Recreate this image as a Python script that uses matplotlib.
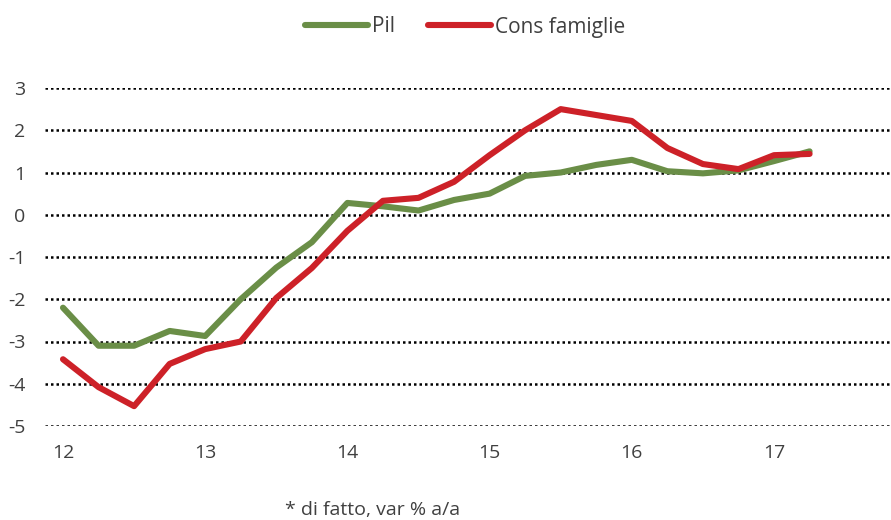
import numpy as np
import matplotlib.pyplot as plt

plt.rcParams['font.family'] = ['Open Sans', 'DejaVu Sans']
plt.rcParams['axes.unicode_minus'] = False

# Quarterly data, 2012Q1 - 2017Q2
quarters = np.arange(22)
pil = [-2.2, -3.1, -3.1, -2.75, -2.87, -2.0, -1.25, -0.65, 0.28, 0.2, 0.1, 0.35,
       0.5, 0.92, 1.0, 1.18, 1.3, 1.03, 0.98, 1.05, 1.27, 1.5]
cons_famiglie = [-3.42, -4.08, -4.53, -3.53, -3.18, -3.0, -1.97, -1.26, -0.38, 0.33, 0.4, 0.78,
                 1.41, 2.0, 2.5, 2.36, 2.22, 1.58, 1.2, 1.08, 1.41, 1.44]
year_ticks = [0, 4, 8, 12, 16, 20]
year_labels = ['12', '13', '14', '15', '16', '17']

text_col = '#404040'

fig = plt.figure(figsize=(8.91, 5.2), dpi=100)
ax = fig.add_axes([45 / 891, (520 - 426) / 520, (891 - 45) / 891, (426 - 88) / 520])

ax.plot(quarters, pil, color='#6A8E47', lw=4.4, label='Pil', solid_capstyle='round', clip_on=False)
ax.plot(quarters, cons_famiglie, color='#CD2128', lw=4.4, label='Cons famiglie', solid_capstyle='round', clip_on=False)

ax.set_xlim(-0.506, 23.29)
ax.set_ylim(-5, 3)
ax.set_yticks(range(-5, 4))
ax.set_xticks(year_ticks)
ax.set_xticklabels(year_labels)
ax.yaxis.grid(True, linestyle=(0, (1, 1.2)), color='black', lw=1.8)
ax.set_axisbelow(True)
for s in ax.spines.values():
    s.set_visible(False)
ax.tick_params(length=0, labelsize=14, colors=text_col)
ax.tick_params(axis='y', pad=14)
ax.tick_params(axis='x', pad=13)

fig.legend(loc='center', bbox_to_anchor=(465 / 891, 1 - 27 / 520), ncol=2, frameon=False,
           fontsize=15, handlelength=3.0, handletextpad=0.2, columnspacing=1.6,
           labelcolor=text_col)

fig.text(285 / 891, 1 - 510 / 520, '* di fatto, var % a/a', fontsize=14, color=text_col,
         va='center', ha='left')

fig.savefig('out.png', dpi=100)
